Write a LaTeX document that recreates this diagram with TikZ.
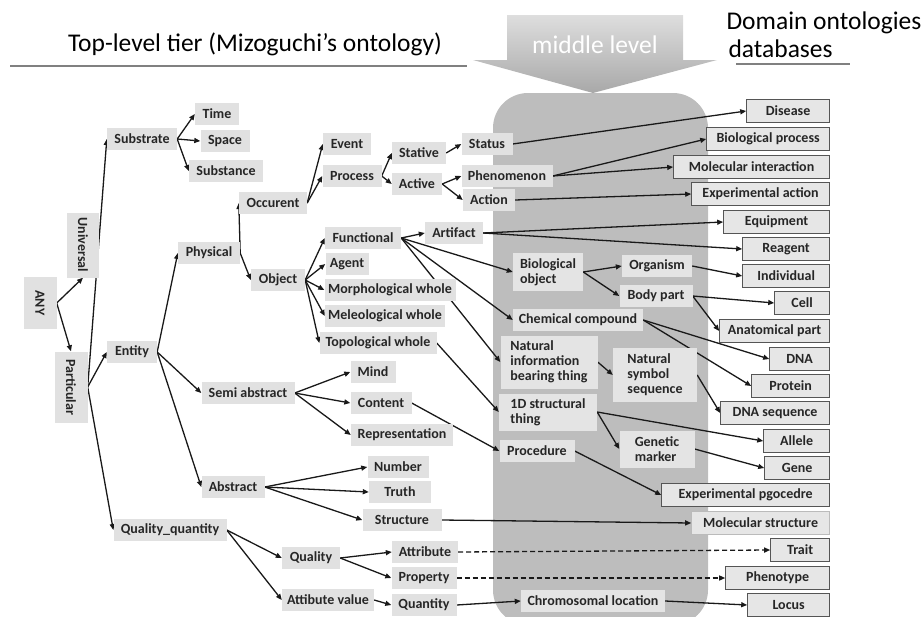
\documentclass[tikz,border=0pt]{standalone}
\usepackage{fontspec}
\setmainfont{Carlito}
\usetikzlibrary{arrows.meta, positioning}
\definecolor{boxFill}{HTML}{E1E1E1}
\definecolor{midFill}{HTML}{E4E4E4}
\definecolor{dbFill}{HTML}{E6E6E6}
\definecolor{dbLine}{HTML}{555555}
\definecolor{regionGray}{HTML}{BDBDBD}
\definecolor{txtDark}{HTML}{262626}
\definecolor{ulineGray}{HTML}{808080}
\newcommand{\boxfont}{\fontsize{14}{15}\selectfont\bfseries}
\newcommand{\headfont}{\fontsize{25.5}{28}\selectfont}
\pgfdeclarelayer{back}
\pgfdeclarelayer{edges}
\pgfsetlayers{back,edges,main}

\begin{document}
\begin{tikzpicture}[x=1pt, y=-1pt,
      lbox/.style={fill=boxFill, text=txtDark, font=\boxfont, inner xsep=3pt,
                   inner ysep=2pt, minimum height=22pt},
      vbox/.style={lbox, rotate=-90},
      mbox/.style={lbox, fill=midFill, align=left},
      dbox/.style={lbox, fill=dbFill, draw=dbLine, line width=0.8pt,
                   minimum height=23pt, anchor=east},
      link/.style={-{Triangle[length=6pt,width=5pt]}, line width=1.3pt, black!90},
      weak/.style={link, dash pattern=on 5pt off 3pt}]
    \useasboundingbox (0,0) rectangle (921,616);

    % headings
    \node[font=\headfont, anchor=base] (toptier) at (255,51) {Top-level tier (Mizoguchi’s ontology)};
    \node[font=\headfont, anchor=base west] (domain) at (723,29) {Domain ontologies};
    \node[font=\headfont, anchor=base west] (dbases) at (725,57) {databases};
    \draw[ulineGray, line width=2.5pt] (10,66) -- (467,66);
    \draw[ulineGray, line width=2.5pt] (736,64) -- (850,64);

    % middle level region and arrow
    \begin{pgfonlayer}{back}
      \fill[regionGray, rounded corners=35pt] (493,93) rectangle (708,625);
      \shade[top color=black!13, bottom color=black!34]
        (507,15) -- (683,15) -- (683,60) -- (717,60) -- (593,93) -- (473,60) -- (507,60) -- cycle;
    \end{pgfonlayer}
    \node[font=\headfont, text=white, anchor=base] (midlevel) at (595,53) {middle level};

    % top-level tier
    \node[vbox, minimum width=52pt, minimum height=33pt] (any) at (40,303) {ANY};
    \node[vbox, minimum width=65pt, minimum height=32pt] (universal) at (83,245) {Universal};
    \node[vbox, minimum width=71pt, minimum height=33pt] (particular) at (71,387) {Particular};
    \node[lbox, minimum width=70pt] (substrate) at (142,139) {Substrate};
    \node[lbox, minimum width=44pt] (time) at (217,114) {Time};
    \node[lbox, minimum width=49pt] (space) at (225,141) {Space};
    \node[lbox, minimum width=74pt] (substance) at (226,171) {Substance};
    \node[lbox, minimum width=50pt] (entity) at (132,352) {Entity};
    \node[lbox, minimum width=62pt] (physical) at (209,253) {Physical};
    \node[lbox, minimum width=68pt] (occurent) at (273,203) {Occurent};
    \node[lbox, minimum width=54pt] (object) at (278,280) {Object};
    \node[lbox, minimum width=48pt] (event) at (347,144) {Event};
    \node[lbox, minimum width=59pt] (process) at (352,176) {Process};
    \node[lbox, minimum width=54pt] (stative) at (419,153) {Stative};
    \node[lbox, minimum width=50pt] (active) at (417,184) {Active};
    \node[lbox, minimum width=51pt] (status) at (487,144) {Status};
    \node[lbox, minimum width=91pt] (phenomenon) at (507,176) {Phenomenon};
    \node[lbox, minimum width=52pt] (action) at (489,200) {Action};
    \node[lbox, minimum width=76pt] (functional) at (363,238) {Functional};
    \node[lbox, minimum width=58pt] (artifact) at (454,233) {Artifact};
    \node[lbox, minimum width=43pt] (agent) at (347,264) {Agent};
    \node[lbox, minimum width=131pt] (morph) at (390,290) {Morphological whole};
    \node[lbox, minimum width=120pt] (meleo) at (385,316) {Meleological whole};
    \node[lbox, minimum width=117pt] (topo) at (378,343) {Topological whole};
    \node[lbox, minimum width=93pt] (semiabs) at (248,393) {Semi abstract};
    \node[lbox, minimum width=45pt] (mind) at (373,372) {Mind};
    \node[lbox, minimum width=61pt] (content) at (381,403) {Content};
    \node[lbox, minimum width=102pt] (repr) at (402,435) {Representation};
    \node[lbox, minimum width=63pt] (abstract) at (233,487) {Abstract};
    \node[lbox, minimum width=61pt] (number) at (398,467) {Number};
    \node[lbox, minimum width=62pt] (truth) at (400,492) {Truth};
    \node[lbox, minimum width=79pt] (structure) at (402,520) {Structure};
    \node[lbox, minimum width=113pt] (qualquant) at (170,530) {Quality\_quantity};
    \node[lbox, minimum width=58pt] (quality) at (311,558) {Quality};
    \node[lbox, minimum width=92pt] (attrval) at (328,600) {Attibute value};
    \node[lbox, minimum width=66pt] (attribute) at (425,552) {Attribute};
    \node[lbox, minimum width=65pt] (property) at (424,578) {Property};
    \node[lbox, minimum width=65pt] (quantity) at (424,605) {Quantity};

    % middle level
    \node[mbox, minimum width=70pt, minimum height=38pt] (bioobj) at (548,272) {Biological\\object};
    \node[mbox, minimum width=70pt] (organism) at (657,266) {Organism};
    \node[mbox, minimum width=73pt] (bodypart) at (656,296) {Body part};
    \node[mbox, minimum width=130pt] (chemcomp) at (578,320) {Chemical compound};
    \node[mbox, minimum width=97pt, minimum height=53pt] (natinfo) at (549,362) {Natural\\information\\bearing thing};
    \node[mbox, minimum width=84pt, minimum height=54pt] (natsym) at (655,375) {Natural\\symbol\\sequence};
    \node[mbox, minimum width=98pt, minimum height=37pt] (oned) at (548,412) {1D structural\\thing};
    \node[mbox, minimum width=75pt, minimum height=37pt] (genmarker) at (657,449) {Genetic\\marker};
    \node[mbox, minimum width=75pt] (procedure) at (537,451) {Procedure};
    \node[mbox, minimum width=144pt] (chromloc) at (593,601) {Chromosomal location};

    % domain ontologies
    \node[dbox, minimum width=83pt] (disease) at (830,111) {Disease};
    \node[dbox, minimum width=123pt] (bioproc) at (830,139) {Biological process};
    \node[dbox, minimum width=156pt] (molint) at (830,167) {Molecular interaction};
    \node[dbox, minimum width=138pt] (expaction) at (830,194) {Experimental action};
    \node[dbox, minimum width=106pt] (equipment) at (830,222) {Equipment};
    \node[dbox, minimum width=87pt] (reagent) at (830,249) {Reagent};
    \node[dbox, minimum width=87pt] (individual) at (830,276) {Individual};
    \node[dbox, minimum width=55pt] (cell) at (830,303) {Cell};
    \node[dbox, minimum width=110pt] (anatpart) at (830,331) {Anatomical part};
    \node[dbox, minimum width=60pt] (dna) at (830,359) {DNA};
    \node[dbox, minimum width=78pt] (protein) at (830,386) {Protein};
    \node[dbox, minimum width=109pt] (dnaseq) at (830,413) {DNA sequence};
    \node[dbox, minimum width=66pt] (allele) at (830,441) {Allele};
    \node[dbox, minimum width=65pt] (gene) at (830,468) {Gene};
    \node[dbox, minimum width=168pt] (expproc) at (830,495) {Experimental pgocedre};
    \node[dbox, minimum width=138pt, draw=dbLine!40] (molstruct) at (830,523) {Molecular structure};
    \node[dbox, minimum width=59pt] (trait) at (830,550) {Trait};
    \node[dbox, minimum width=104pt] (phenotype) at (830,578) {Phenotype};
    \node[dbox, minimum width=82pt] (locus) at (830,605) {Locus};

    \begin{pgfonlayer}{edges}
      \draw[link] (any.north) -- (universal.east);
      \draw[link] (any.north) -- (particular.west);
      \draw[link] (particular.north) -- (substrate.west);
      \draw[link] (particular.north) -- (entity.west);
      \draw[link] (particular.north) -- (qualquant.west);
      \draw[link] (substrate.east) -- (time.west);
      \draw[link] (substrate.east) -- (space.west);
      \draw[link] (substrate.east) -- (substance.west);
      \draw[link] (entity.east) -- (physical.west);
      \draw[link] (entity.east) -- (semiabs.west);
      \draw[link] (entity.east) -- (abstract.west);
      \draw[link] (physical.east) -- (occurent.west);
      \draw[link] (physical.east) -- (object.west);
      \draw[link] (occurent.east) -- (event.west);
      \draw[link] (occurent.east) -- (process.west);
      \draw[link] (process.east) -- (stative.west);
      \draw[link] (process.east) -- (active.west);
      \draw[link] (stative.east) -- (status.west);
      \draw[link] (active.east) -- (phenomenon.west);
      \draw[link] (active.east) -- (action.west);
      \draw[link] (status.east) -- (disease.west);
      \draw[link] (phenomenon.east) -- (bioproc.west);
      \draw[link] (phenomenon.east) -- (molint.west);
      \draw[link] (action.east) -- (expaction.west);
      \draw[link] (object.east) -- (functional.west);
      \draw[link] (object.east) -- (agent.west);
      \draw[link] (object.east) -- (morph.west);
      \draw[link] (object.east) -- (meleo.west);
      \draw[link] (object.east) -- (topo.west);
      \draw[link] (functional.east) -- (artifact.west);
      \draw[link] (functional.east) -- (bioobj.west);
      \draw[link] (functional.east) -- (chemcomp.west);
      \draw[link] (functional.east) -- (natinfo.west);
      \draw[link] (artifact.east) -- (equipment.west);
      \draw[link] (artifact.east) -- (reagent.west);
      \draw[link] (topo.east) -- (oned.west);
      \draw[link] (bioobj.east) -- (organism.west);
      \draw[link] (bioobj.east) -- (bodypart.west);
      \draw[link] (organism.east) -- (individual.west);
      \draw[link] (bodypart.east) -- (cell.west);
      \draw[link] (bodypart.east) -- (anatpart.west);
      \draw[link] (chemcomp.east) -- (dna.west);
      \draw[link] (chemcomp.east) -- (protein.west);
      \draw[link] (natinfo.east) -- (natsym.west);
      \draw[link] (natsym.east) -- (dnaseq.west);
      \draw[link] (oned.east) -- (allele.west);
      \draw[link] (oned.east) -- (genmarker.west);
      \draw[link] (genmarker.east) -- (gene.west);
      \draw[link] (semiabs.east) -- (mind.west);
      \draw[link] (semiabs.east) -- (content.west);
      \draw[link] (semiabs.east) -- (repr.west);
      \draw[link] (content.east) -- (procedure.west);
      \draw[link] (procedure.east) -- (expproc.west);
      \draw[link] (abstract.east) -- (number.west);
      \draw[link] (abstract.east) -- (truth.west);
      \draw[link] (abstract.east) -- (structure.west);
      \draw[link] (structure.east) -- (molstruct.west);
      \draw[link] (qualquant.east) -- (quality.west);
      \draw[link] (qualquant.east) -- (attrval.west);
      \draw[link] (quality.east) -- (attribute.west);
      \draw[link] (quality.east) -- (property.west);
      \draw[weak] (attribute.east) -- (trait.west);
      \draw[weak] (property.east) -- (phenotype.west);
      \draw[link] (attrval.east) -- (quantity.west);
      \draw[link] (quantity.east) -- (chromloc.west);
      \draw[link] (chromloc.east) -- (locus.west);
    \end{pgfonlayer}
  \end{tikzpicture}
\end{document}
